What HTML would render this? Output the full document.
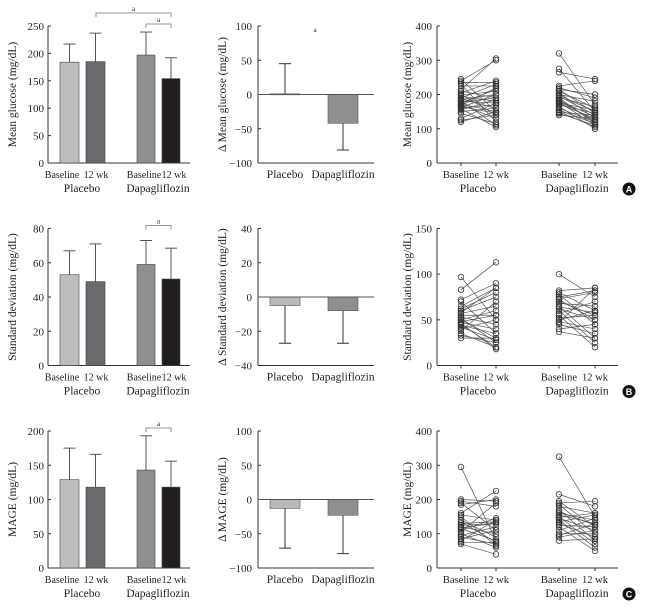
<!DOCTYPE html>
<html><head><meta charset="utf-8">
<style>
body{margin:0;background:#fff;}
svg{display:block;}
svg text{font-family:"Liberation Serif","DejaVu Serif",serif;fill:#231f20;}
</style></head>
<body>
<svg id="fig" width="646" height="610" viewBox="0 0 646 610" xmlns="http://www.w3.org/2000/svg"></svg>
<script>
// ---- data ----
const groupLabels = ["Placebo", "Dapagliflozin"];
const timeLabels = ["Baseline", "12 wk"];
const barMeans = [[184,185,197,154],[53,49,59,50.5],[129,118,143,118]];
const barSD = [[33,52,42,38],[14,22,14,18],[46,48,50,38]];
const deltaMeans = [[1,-42],[-5,-8],[-13,-23]];
const deltaSD = [[44,-39],[-22,-19],[-58,-56]];
const barMax = [250,80,200];
const barStep = [50,20,50];
const deltaMax = [100,40,100];
const deltaStep = [50,20,50];
const scatMax = [400,150,400];
const scatStep = [100,50,100];
const yTitles = ["Mean glucose (mg/dL)","Standard deviation (mg/dL)","MAGE (mg/dL)"];
const dTitles = ["\u0394 Mean glucose (mg/dL)","\u0394 Standard deviation (mg/dL)","\u0394 MAGE (mg/dL)"];
const rowLetters = ["A","B","C"];
const plaBase = [
 [245,240,235,230,225,215,210,205,200,198,195,190,188,185,182,180,178,175,172,170,168,165,162,160,158,155,150,145,130,125,120],
 [97,83,72,70,65,62,60,57,55,53,52,50,50,48,47,45,44,42,40,38,35,33,30,58,46],
 [295,200,195,190,185,160,155,140,135,130,125,120,115,110,105,100,95,90,85,80,75,70,150,118]];
const pla12 = [
 [150,300,235,120,225,305,190,240,140,210,180,230,160,200,110,175,190,215,150,130,220,145,200,170,105,185,160,115,175,140,150],
 [50,113,90,35,85,80,75,65,55,45,25,30,60,55,40,20,35,28,50,70,20,25,30,85,18],
 [80,195,180,110,200,225,140,90,75,135,130,100,80,145,190,60,120,70,110,140,75,40,65,130]];
const dapBase = [
 [320,275,265,225,220,215,210,205,200,198,195,190,185,182,180,178,175,172,170,165,160,155,150,148,145,140,215,190],
 [100,82,80,78,75,73,70,68,65,62,60,57,55,52,50,48,47,45,40,37,72,64],
 [325,215,195,190,185,180,170,160,155,150,145,140,135,130,125,120,110,100,95,90,80,165,148]];
const dap12 = [
 [170,150,245,240,190,145,160,130,180,150,140,165,120,135,125,110,155,130,145,100,120,115,105,140,110,130,200,115],
 [75,85,60,45,82,80,55,65,30,50,25,70,20,55,60,40,85,35,45,30,50,58],
 [150,180,120,195,100,160,80,140,130,70,110,60,155,90,120,50,145,100,130,110,85,125,160]];

const svg = document.getElementById('fig');
const NS = "http://www.w3.org/2000/svg";
function mk(tag, attrs, parent, txt){
  const e = document.createElementNS(NS, tag);
  for (const k in attrs) e.setAttribute(k, attrs[k]);
  if (tag==='text' && !attrs['font-family']) e.setAttribute('font-family','Liberation Serif, DejaVu Serif, serif');
  if (txt !== undefined) e.textContent = txt;
  (parent||svg).appendChild(e);
  return e;
}
const barColors = ["#bcbcbf","#6a6a6e","#8e8e91","#231f20"];
const barX = [[60,79],[86,105],[137,155],[162,180]];
const barLabelX = [62,96,144,174];
const rowTop = [26,228.5,431], rowBot = [163,365.5,568];

for (let r=0;r<3;r++){
  const top=rowTop[r], bot=rowBot[r];
  // ===== left bar panel =====
  const g1 = mk('g',{});
  
  
  const y1 = v => bot - v/barMax[r]*(bot-top);
  mk('line',{x1:48,y1:top,x2:48,y2:bot,stroke:'#333','stroke-width':1},g1);
  mk('line',{x1:48,y1:bot,x2:190,y2:bot,stroke:'#333','stroke-width':1},g1);
  for (let v=0; v<=barMax[r]; v+=barStep[r]){
    mk('line',{x1:48,y1:y1(v),x2:51,y2:y1(v),stroke:'#333'},g1);
    const t = mk('text',{x:44,y:y1(v)+4,'text-anchor':'end','font-size':11},g1,String(v));
    
    
  }
  for (let i=0;i<4;i++){
    const [xa,xb]=barX[i];
    const m=barMeans[r][i], s=barSD[r][i], xc=(xa+xb)/2;
    mk('line',{x1:xc,y1:y1(m),x2:xc,y2:y1(m+s),stroke:'#555','stroke-width':1},g1);
    mk('line',{x1:xc-6,y1:y1(m+s),x2:xc+6,y2:y1(m+s),stroke:'#555','stroke-width':1},g1);
    const b = mk('rect',{x:xa,y:y1(m),width:xb-xa,height:bot-y1(m),fill:barColors[i],stroke:'#444','stroke-width':0.6},g1);
    
    
    mk('text',{x:barLabelX[i],y:bot+15,'text-anchor':'middle','font-size':10},g1,timeLabels[i%2]);
  }
  mk('text',{x:82,y:bot+29,'text-anchor':'middle','font-size':11.5},g1,groupLabels[0]);
  mk('text',{x:158,y:bot+29,'text-anchor':'middle','font-size':11.5},g1,groupLabels[1]);
  const yt = mk('text',{x:0,y:0,'text-anchor':'middle','font-size':11.5,transform:`translate(16,${(top+bot)/2}) rotate(-90)`},g1,yTitles[r]);
  
  
  function bracket(xa,xb,yy){
    mk('path',{d:`M${xa},${yy+4}V${yy}H${xb}V${yy+4}`,fill:'none',stroke:'#777','stroke-width':0.8},g1);
    mk('text',{x:(xa+xb)/2,y:yy-2,'text-anchor':'middle','font-size':7},g1,'a');
  }
  if (r===0){ bracket(96,171,13); bracket(146,171,24); }
  else bracket(146,171,top-3);

  // ===== middle delta panel =====
  const g2 = mk('g',{});
  
  
  const y2 = v => bot - (v+deltaMax[r])/(2*deltaMax[r])*(bot-top);
  mk('line',{x1:258,y1:top,x2:258,y2:bot,stroke:'#333'},g2);
  mk('line',{x1:258,y1:bot,x2:374,y2:bot,stroke:'#333'},g2);
  for (let v=-deltaMax[r]; v<=deltaMax[r]; v+=deltaStep[r]){
    mk('line',{x1:258,y1:y2(v),x2:261,y2:y2(v),stroke:'#333'},g2);
    mk('text',{x:252,y:y2(v)+4,'text-anchor':'end','font-size':11},g2,(v<0?'\u2212'+(-v):String(v)));
  }
  const dx=[[270,300],[328,358]], dcol=["#b9b9bc","#8f8f92"];
  for (let i=0;i<2;i++){
    const m=deltaMeans[r][i], s=deltaSD[r][i], xc=(dx[i][0]+dx[i][1])/2;
    mk('line',{x1:xc,y1:y2(m),x2:xc,y2:y2(m+s),stroke:'#333'},g2);
    mk('line',{x1:xc-6,y1:y2(m+s),x2:xc+6,y2:y2(m+s),stroke:'#333'},g2);
    const ya=Math.min(y2(m),y2(0)), h=Math.abs(y2(m)-y2(0));
    const b = mk('rect',{x:dx[i][0],y:ya,width:30,height:Math.max(h,1),fill:dcol[i],stroke:'#555','stroke-width':0.6},g2);
    
    
    mk('text',{x:xc,y:bot+15,'text-anchor':'middle','font-size':11.5},g2,groupLabels[i]);
  }
  mk('line',{x1:258,y1:y2(0),x2:374,y2:y2(0),stroke:'#555','stroke-width':1},g2);
  if (r===0) mk('text',{x:315,y:32,'text-anchor':'middle','font-size':7},g2,'a');
  mk('text',{x:0,y:0,'text-anchor':'middle','font-size':11.5,transform:`translate(226,${(top+bot)/2}) rotate(-90)`},g2,dTitles[r]);

  // ===== right scatter panel =====
  const g3 = mk('g',{});
  
  
  const y3 = v => bot - v/scatMax[r]*(bot-top);
  mk('line',{x1:437,y1:top,x2:437,y2:bot,stroke:'#333'},g3);
  mk('line',{x1:437,y1:bot,x2:618,y2:bot,stroke:'#333'},g3);
  for (let v=0; v<=scatMax[r]; v+=scatStep[r]){
    mk('line',{x1:437,y1:y3(v),x2:440,y2:y3(v),stroke:'#333'},g3);
    mk('text',{x:432,y:y3(v)+4,'text-anchor':'end','font-size':11},g3,String(v));
  }
  const px=[461,496,559,595];
  px.forEach((x,i)=>{
    mk('line',{x1:x,y1:bot,x2:x,y2:bot+3,stroke:'#333'},g3);
    mk('text',{x:x,y:bot+15,'text-anchor':'middle','font-size':10.5},g3,timeLabels[i%2]);
  });
  mk('text',{x:478,y:bot+29,'text-anchor':'middle','font-size':11.5},g3,groupLabels[0]);
  mk('text',{x:577,y:bot+29,'text-anchor':'middle','font-size':11.5},g3,groupLabels[1]);
  mk('text',{x:0,y:0,'text-anchor':'middle','font-size':11.5,transform:`translate(411,${(top+bot)/2}) rotate(-90)`},g3,yTitles[r]);
  function pairs(a,b,xa,xb){
    for (let k=0;k<a.length;k++)
      mk('line',{x1:xa,y1:y3(a[k]),x2:xb,y2:y3(b[k]),stroke:'#555','stroke-width':0.7},g3);
    for (let k=0;k<a.length;k++){
      const c1=mk('circle',{cx:xa,cy:y3(a[k]),r:2.8,fill:'none',stroke:'#333','stroke-width':0.8},g3);
      
      
      const c2=mk('circle',{cx:xb,cy:y3(b[k]),r:2.8,fill:'none',stroke:'#333','stroke-width':0.8},g3);
      
      
    }
  }
  pairs(plaBase[r],pla12[r],px[0],px[1]);
  pairs(dapBase[r],dap12[r],px[2],px[3]);
  const by = bot+26;
  const bc = mk('circle',{cx:629,cy:by,r:6.5,fill:'#111'},g3);
  
  
  mk('text',{x:629,y:by+3.5,'text-anchor':'middle','font-size':9,'font-weight':'bold','font-family':'Liberation Sans, sans-serif',style:'fill:#fff;font-family:Liberation Sans,sans-serif'},g3,rowLetters[r]);
}
</script>
</body></html>
